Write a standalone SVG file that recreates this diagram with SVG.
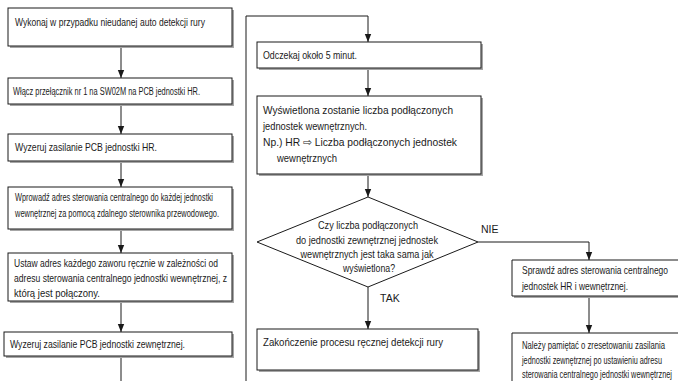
<svg xmlns="http://www.w3.org/2000/svg" width="678" height="381" viewBox="0 0 678 381">
<defs>
<marker id="ah" viewBox="0 0 8 8" refX="8" refY="4" markerWidth="8" markerHeight="8" markerUnits="userSpaceOnUse" orient="auto"><path d="M0,0.8 L8,4 L0,7.2 Z" fill="#1a1a1a"/></marker>
</defs>
<style>
.bx{fill:#fff;stroke:#1a1a1a;stroke-width:1}
.sh{fill:#a6a6a6}
.ln{fill:none;stroke:#1a1a1a;stroke-width:1}
.ar{fill:none;stroke:#1a1a1a;stroke-width:1;marker-end:url(#ah)}
text{font-family:"Liberation Sans Narrow","Liberation Sans",Arial,sans-serif;font-size:10.5px;fill:#1a1a1a}
.s{font-size:10px}
.c{text-anchor:middle}
</style>
<rect width="678" height="381" fill="#fff"/>
<g id="connectors">
<path class="ar" d="M121,46 V78"/>
<path class="ar" d="M121,104 V134"/>
<path class="ar" d="M121,161 V187"/>
<path class="ar" d="M121,229 V253"/>
<path class="ar" d="M121,301 V332"/>
<path class="ln" d="M121,356 V381"/>
<path class="ln" d="M246,381 V16 H368"/>
<path class="ar" d="M368,16 V42"/>
<path class="ar" d="M368,68 V96"/>
<path class="ar" d="M368,174 V197"/>
<path class="ar" d="M368,287 V329"/>
<path class="ar" d="M478,242 H589 V260"/>
<path class="ar" d="M589,296 V333"/>
<text x="380" y="302">TAK</text>
<text x="481" y="233">NIE</text>
</g>
<g id="n1">
<rect class="sh" x="10" y="10" width="224" height="38"/>
<rect class="bx" x="8" y="8" width="224" height="38"/>
<text x="15" y="26" textLength="190" lengthAdjust="spacingAndGlyphs">Wykonaj w przypadku nieudanej auto detekcji rury</text>
</g>
<g id="n2">
<rect class="sh" x="10" y="80" width="224" height="26"/>
<rect class="bx" x="8" y="78" width="224" height="26"/>
<text class="s" x="13" y="95" textLength="187" lengthAdjust="spacingAndGlyphs">Włącz przełącznik nr 1 na SW02M na PCB jednostki HR.</text>
</g>
<g id="n3">
<rect class="sh" x="10" y="136" width="224" height="27"/>
<rect class="bx" x="8" y="134" width="224" height="27"/>
<text x="15" y="151" textLength="142" lengthAdjust="spacingAndGlyphs">Wyzeruj zasilanie PCB jednostki HR.</text>
</g>
<g id="n4">
<rect class="sh" x="10" y="189" width="224" height="42"/>
<rect class="bx" x="8" y="187" width="224" height="42"/>
<text class="s" x="15" y="201" textLength="198" lengthAdjust="spacingAndGlyphs">Wprowadź adres sterowania centralnego do każdej jednostki</text>
<text class="s" x="15" y="217" textLength="204" lengthAdjust="spacingAndGlyphs">wewnętrznej za pomocą zdalnego sterownika przewodowego.</text>
</g>
<g id="n5">
<rect class="sh" x="10" y="255" width="224" height="48"/>
<rect class="bx" x="8" y="253" width="224" height="48"/>
<text x="14" y="267" textLength="204" lengthAdjust="spacingAndGlyphs">Ustaw adres każdego zaworu ręcznie w zależności od</text>
<text x="14" y="282" textLength="213" lengthAdjust="spacingAndGlyphs">adresu sterowania centralnego jednostki wewnętrznej, z</text>
<text x="14" y="297" textLength="86" lengthAdjust="spacingAndGlyphs">którą jest połączony.</text>
</g>
<g id="n6">
<rect class="sh" x="6" y="334" width="228" height="24"/>
<rect class="bx" x="4" y="332" width="228" height="24"/>
<text x="10" y="348" textLength="175" lengthAdjust="spacingAndGlyphs">Wyzeruj zasilanie PCB jednostki zewnętrznej.</text>
</g>
<g id="r1">
<rect class="sh" x="259" y="44" width="224" height="26"/>
<rect class="bx" x="257" y="42" width="224" height="26"/>
<text x="263" y="59" textLength="94" lengthAdjust="spacingAndGlyphs">Odczekaj około 5 minut.</text>
</g>
<g id="r2">
<rect class="sh" x="259" y="98" width="224" height="78"/>
<rect class="bx" x="257" y="96" width="224" height="78"/>
<text x="263" y="114" textLength="190" lengthAdjust="spacingAndGlyphs">Wyświetlona zostanie liczba podłączonych</text>
<text x="263" y="130" textLength="104" lengthAdjust="spacingAndGlyphs">jednostek wewnętrznych.</text>
<text x="263" y="146" textLength="194" lengthAdjust="spacingAndGlyphs">Np.) HR ⇨ Liczba podłączonych jednostek</text>
<text x="277" y="162" textLength="60" lengthAdjust="spacingAndGlyphs">wewnętrznych</text>
</g>
<g id="d1">
<polygon points="368,197 478,242 368,287 257,242" fill="#fff" stroke="#1a1a1a" stroke-width="1"/>
<text class="c" x="368" y="229" textLength="100" lengthAdjust="spacingAndGlyphs">Czy liczba podłączonych</text>
<text class="c" x="367" y="244" textLength="142" lengthAdjust="spacingAndGlyphs">do jednostki zewnętrznej jednostek</text>
<text class="c" x="367" y="258" textLength="133" lengthAdjust="spacingAndGlyphs">wewnętrznych jest taka sama jak</text>
<text class="c" x="369" y="272" textLength="52" lengthAdjust="spacingAndGlyphs">wyświetlona?</text>
</g>
<g id="r3">
<rect class="sh" x="259" y="331" width="221" height="41"/>
<rect class="bx" x="257" y="329" width="221" height="41"/>
<text x="263" y="346" textLength="180" lengthAdjust="spacingAndGlyphs">Zakończenie procesu ręcznej detekcji rury</text>
</g>
<g id="r4">
<path class="sh" d="M514,296 H678 V298 H514 Z"/>
<path class="ln" d="M678,260 H512 V296 H678"/>
<text x="522" y="274" textLength="146" lengthAdjust="spacingAndGlyphs">Sprawdź adres sterowania centralnego</text>
<text x="522" y="290" textLength="106" lengthAdjust="spacingAndGlyphs">jednostek HR i wewnętrznej.</text>
</g>
<g id="r5">
<path class="ln" d="M678,333 H512 V381"/>
<text x="522" y="349" textLength="143" lengthAdjust="spacingAndGlyphs">Należy pamiętać o zresetowaniu zasilania</text>
<text x="522" y="364" textLength="140" lengthAdjust="spacingAndGlyphs">jednostki zewnętrznej po ustawieniu adresu</text>
<text x="522" y="378" textLength="150" lengthAdjust="spacingAndGlyphs">sterowania centralnego jednostki wewnętrznej</text>
</g>
</svg>
